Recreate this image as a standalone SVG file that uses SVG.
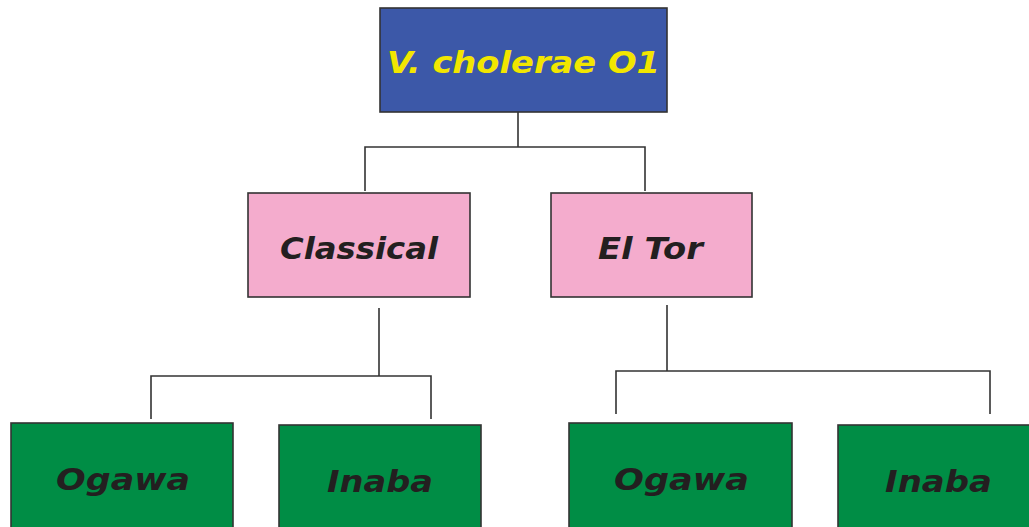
<svg xmlns="http://www.w3.org/2000/svg" width="1029" height="527" viewBox="0 0 1029 527">
<style>
.box{stroke:#333;stroke-width:1.6}
.root{fill:#3c58a8}
.mid{fill:#f4accd}
.leaf{fill:#008d45}
.t{font-family:"DejaVu Sans","Liberation Sans",sans-serif;font-weight:bold;font-style:italic;text-anchor:middle;fill:#231f20;font-size:31px}
.ty{fill:#f2e600;font-size:31px}
.c{fill:none;stroke:#333;stroke-width:1.6}
</style>
<rect width="1029" height="527" fill="#fff"/>
<g id="connectors">
<path class="c" d="M518 112V147M365 191V147H645V191"/>
<path class="c" d="M379 308V376M151 419V376H431V419"/>
<path class="c" d="M667 305V371M616 414V371H990V414"/>
</g>
<g id="root">
<rect class="box root" x="380" y="8" width="287" height="104"/>
<text class="t ty" x="523.5" y="73" textLength="273" lengthAdjust="spacingAndGlyphs">V. cholerae O1</text>
</g>
<g id="classical">
<rect class="box mid" x="248" y="193" width="222" height="104"/>
<text class="t" x="359" y="259" textLength="158" lengthAdjust="spacingAndGlyphs">Classical</text>
</g>
<g id="eltor">
<rect class="box mid" x="551" y="193" width="201" height="104"/>
<text class="t" x="650.5" y="259" textLength="105" lengthAdjust="spacingAndGlyphs">El Tor</text>
</g>
<g id="ogawa1">
<rect class="box leaf" x="11" y="423" width="222" height="120"/>
<text class="t" x="123" y="490" textLength="134" lengthAdjust="spacingAndGlyphs">Ogawa</text>
</g>
<g id="inaba1">
<rect class="box leaf" x="279" y="425" width="202" height="120"/>
<text class="t" x="380" y="492" textLength="106" lengthAdjust="spacingAndGlyphs">Inaba</text>
</g>
<g id="ogawa2">
<rect class="box leaf" x="569" y="423" width="223" height="120"/>
<text class="t" x="681.5" y="490" textLength="135" lengthAdjust="spacingAndGlyphs">Ogawa</text>
</g>
<g id="inaba2">
<rect class="box leaf" x="838" y="425" width="200" height="120"/>
<text class="t" x="938.5" y="492" textLength="107" lengthAdjust="spacingAndGlyphs">Inaba</text>
</g>
</svg>
